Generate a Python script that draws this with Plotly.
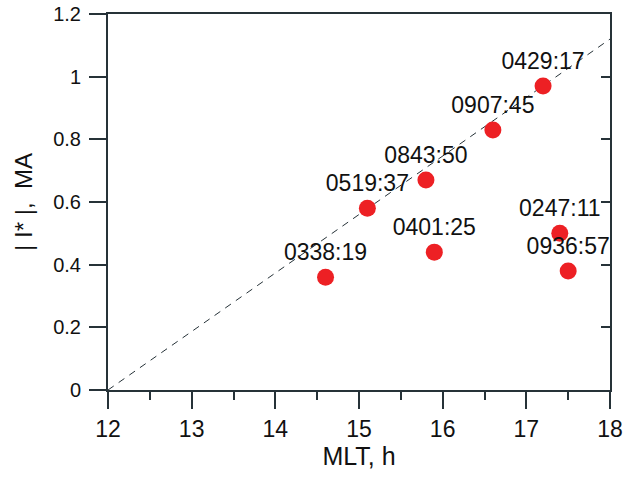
import plotly.graph_objects as go

mlt = [14.6, 15.1, 15.8, 16.6, 17.2, 15.9, 17.4, 17.5]
current = [0.36, 0.58, 0.67, 0.83, 0.97, 0.44, 0.50, 0.38]
labels = ["0338:19", "0519:37", "0843:50", "0907:45", "0429:17", "0401:25", "0247:11", "0936:57"]
line_x = [12, 18]
line_y = [0, 1.12]

AX = "#263238"
FONT = "Liberation Sans, Arial, sans-serif"

fig = go.Figure()
fig.add_trace(go.Scatter(x=line_x, y=line_y, mode="lines",
                         line=dict(color=AX, width=1, dash="7px,6px"),
                         hoverinfo="skip", showlegend=False))
fig.add_trace(go.Scatter(x=mlt, y=current, mode="markers+text", text=labels,
                         textposition="top center",
                         textfont=dict(size=23, color="#111111", family=FONT),
                         marker=dict(size=17, color="#ED2024"),
                         showlegend=False))
# invisible trace to carry the right axis
fig.add_trace(go.Scatter(x=[12], y=[0], yaxis="y2", mode="markers",
                         marker=dict(opacity=0), hoverinfo="skip", showlegend=False))

fig.update_layout(
    width=638, height=477,
    margin=dict(l=108, r=28, t=14, b=87),
    plot_bgcolor="white", paper_bgcolor="white",
    font=dict(family=FONT, color="#111111"),
    xaxis=dict(range=[12, 18], dtick=1, tick0=12, showgrid=False, zeroline=False,
               automargin=False,
               showline=True, linecolor=AX, linewidth=2, mirror=True,
               ticks="outside", ticklen=17, tickwidth=2, tickcolor=AX,
               minor=dict(dtick=0.5, ticks="outside", ticklen=8, tickwidth=2, tickcolor=AX, showgrid=False),
               tickfont=dict(size=23, family=FONT, color="#111111"),
               title=dict(text="MLT, h", font=dict(size=25, family=FONT, color="#111111"), standoff=7)),
    yaxis=dict(range=[0, 1.2], dtick=0.2, tick0=0, showgrid=False, zeroline=False,
               automargin=False,
               showline=True, linecolor=AX, linewidth=2, mirror=True,
               ticks="outside", ticklen=17, tickwidth=2, tickcolor=AX,
               ticklabelstandoff=4,
               tickfont=dict(size=20, family=FONT, color="#111111"),
               title=dict(text="|\u00a0I*\u00a0|,\u00a0\u00a0MA", font=dict(size=24, family=FONT, color="#111111"), standoff=14)),
    yaxis2=dict(range=[0, 1.2], dtick=0.2, tick0=0, overlaying="y", side="right",
                automargin=False,
                showgrid=False, zeroline=False, showline=False, showticklabels=False,
                ticks="inside", ticklen=9, tickwidth=2, tickcolor=AX),
)

fig.write_html("out.html")
